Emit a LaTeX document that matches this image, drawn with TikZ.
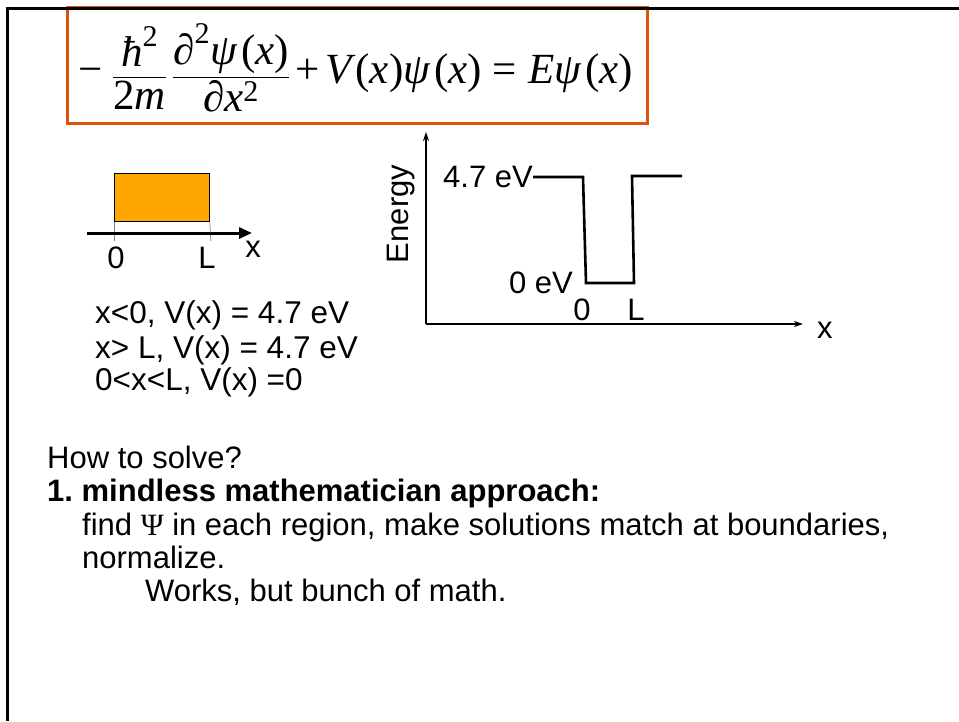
\documentclass[tikz,border=0pt]{standalone}
\usepackage{amsmath}
\usepackage{fontspec}
\setmainfont{Liberation Sans}
\newfontfamily\eqfont{Liberation Serif}
\usetikzlibrary{arrows.meta}
\definecolor{frameorange}{RGB}{222,82,14}
\definecolor{boxorange}{RGB}{255,166,0}
\newcommand\ei[1]{\text{\eqfont\itshape #1}}
\newcommand\eu[1]{\text{\eqfont #1}}
\frenchspacing
\tikzset{
  lbl/.style={inner sep=0pt, font=\fontsize{31}{36}\selectfont},
  body/.style={inner sep=0pt, anchor=base west, font=\fontsize{31}{36}\selectfont},
  well/.style={line width=2.6pt, line join=miter},
  eaxis/.style={line width=1.3pt, -{Stealth[length=9pt,width=6pt]}},
  baxis/.style={line width=3pt, -{Triangle[length=13pt,width=11pt]}},
}
\begin{document}
\begin{tikzpicture}[x=1pt,y=-1pt]
\useasboundingbox (0,0) rectangle (959,721);
% equation frame
\node[draw=frameorange, line width=3pt, minimum width=580pt, minimum height=116pt, inner sep=0pt] (frame) at (357,65) {};
\node[inner sep=0pt] (eq) at (356,68) {\fontsize{43}{50}\selectfont
  $\displaystyle \eu{−}\hspace{9pt}\frac{\ei{ħ}^{\eu{2}}}{\eu{2}\ei{m}}\hspace{5pt}\frac{\eu{∂}^{\eu{2}}\ei{ψ}\,\eu{(}\ei{x}\eu{)}}{\eu{∂}\ei{x}^{\eu{2}}}\hspace{6pt}\eu{+}\hspace{5pt}\ei{V}\,\eu{(}\ei{x}\eu{)}\ei{ψ}\,\eu{(}\ei{x}\eu{)}\hspace{11pt}\eu{=}\hspace{11pt}\ei{E}\ei{ψ}\,\eu{(}\ei{x}\eu{)}$};
% slide border
\draw[line width=3pt] (7.5,721) -- (7.5,8.5) -- (959,8.5);

% small box diagram
\node[draw=black, line width=0.8pt, fill=boxorange, minimum width=95pt, minimum height=48pt, inner sep=0pt, anchor=north west] (box) at (114,173) {};
\coordinate (bx0) at (87,233);
\coordinate (bx1) at (252,233);
\draw[gray, line width=0.7pt] (box.south west) -- ++(0,19);
\draw[gray, line width=0.7pt] (box.south east) -- ++(1,19);
\draw[baxis] (bx0) -- (bx1);
\node[lbl, anchor=base] (b0) at (116,268) {0};
\node[lbl, anchor=base] (bL) at (207,268) {L};
\node[lbl, anchor=base] (bx) at (253,257) {x};

% conditions
\node[body, font=\fontsize{31.5}{36}\selectfont] (c1) at (95,323) {x<0, V(x) = 4.7 eV};
\node[body, font=\fontsize{31.5}{36}\selectfont] (c2) at (95,358) {x> L, V(x) = 4.7 eV};
\node[body, font=\fontsize{31.5}{36}\selectfont] (c3) at (95,390) {0<x<L, V(x) =0};

% energy diagram
\coordinate (o) at (426,324);
\coordinate (ytop) at (426,132);
\coordinate (xend) at (803,324);
\draw[eaxis] (o) -- (ytop);
\draw[eaxis] (o) -- (xend);
\node[lbl, anchor=base west] (xl) at (817,338) {x};
\node[lbl, anchor=base, rotate=90] (en) at (408,214) {Energy};
\node[lbl, anchor=base east] (e47) at (533,187) {4.7 eV};
\node[lbl, anchor=base east] (e0) at (573,293) {0 eV};
\node[lbl, anchor=base] (w0) at (582,320) {0};
\node[lbl, anchor=base] (wL) at (636,320) {L};
\draw[well] (e47.base east) ++(0,-10) coordinate (p0) -- (583,177) -- (586,283) -- (634,283) -- (632,176) -- (682,176);

% text
\node[body] (t1) at (47,468) {How to solve?};
\node[body, font=\fontsize{31}{36}\selectfont\bfseries] (t2) at (47,501) {1. mindless mathematician approach:};
\node[body] (t3) at (82,535) {find {\eqfont Ψ} in each region, make solutions match at boundaries,};
\node[body] (t4) at (82,568) {normalize.};
\node[body] (t5) at (145,601) {Works, but bunch of math.};
\end{tikzpicture}
\end{document}
